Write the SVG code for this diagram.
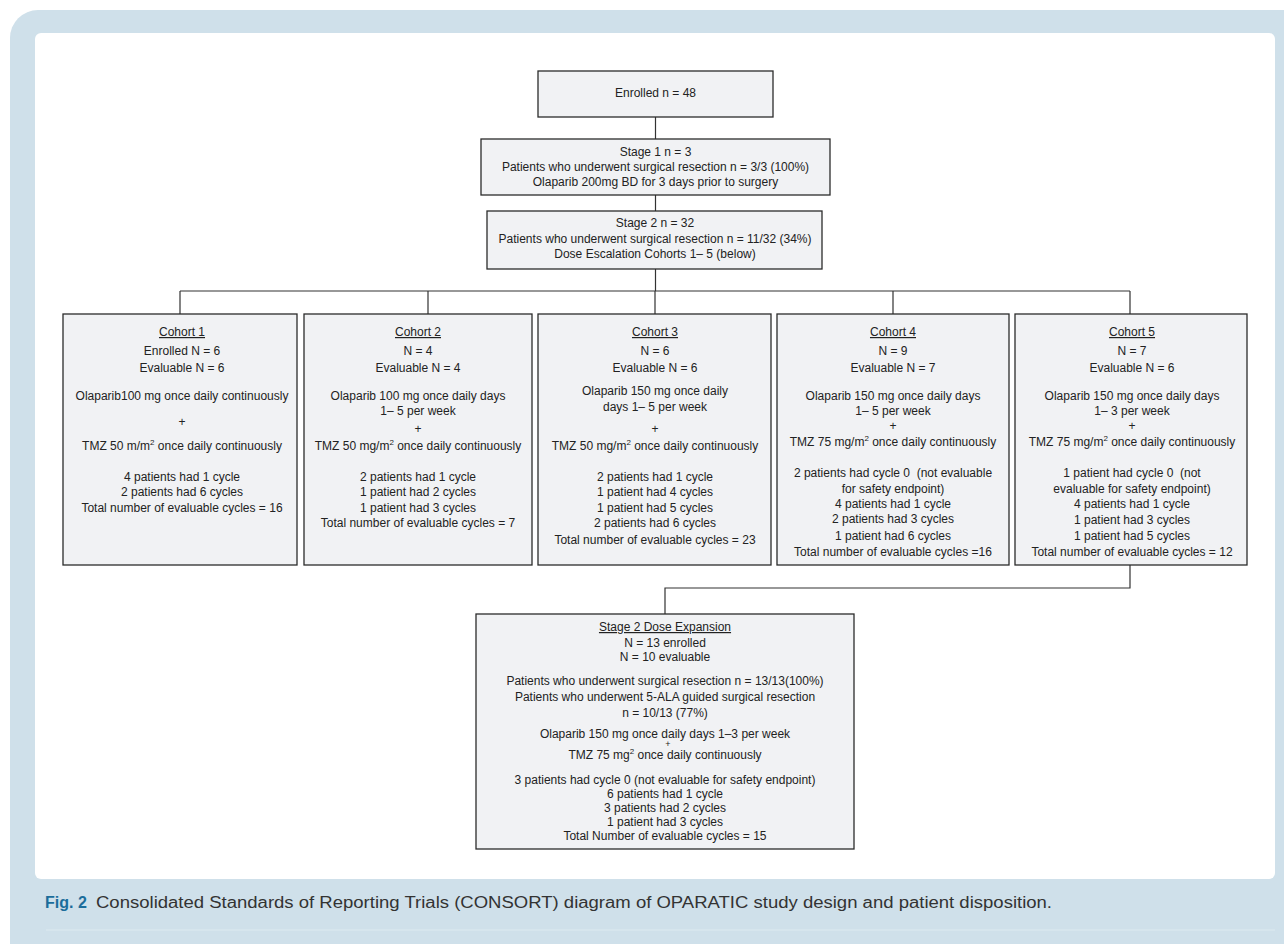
<svg xmlns="http://www.w3.org/2000/svg" width="1284" height="944" viewBox="0 0 1284 944">
<defs>
<style>
.bg{fill:#cfe0ea}
.box{fill:#f1f2f4;stroke:#2b2b2b;stroke-width:1.3}
.t{font-family:"Liberation Sans",Arial,sans-serif;font-size:12px;fill:#222;text-anchor:middle}
.u{text-decoration:underline}
.sup{font-size:8px}
.con{stroke:#333;stroke-width:1.2;fill:none}
.cap{font-family:"Liberation Sans",Arial,sans-serif;font-size:16px;fill:#333}
.fig{font-family:"Liberation Sans",Arial,sans-serif;font-size:16px;font-weight:bold;fill:#1b6d9b}
</style>
</defs>
<rect class="bg" x="10" y="10" width="1320" height="980" rx="28"/>
<rect x="35" y="33" width="1240" height="846" rx="6" fill="#ffffff"/>
<line x1="46" y1="930" x2="1275" y2="930" stroke="#dde9f0" stroke-width="1.2"/>
<text x="45" y="908" class="fig">Fig. 2</text>
<text x="96" y="908" class="cap" textLength="956" lengthAdjust="spacingAndGlyphs">Consolidated Standards of Reporting Trials (CONSORT) diagram of OPARATIC study design and patient disposition.</text>

<g id="connectors">
<path class="con" d="M655.5 117V139M655.5 195V211M655.5 269V291M180 291H1130M180 291V314M428 291V314M655 291V314M893 291V314M1130 291V314M1130 565V588H665V614"/>
</g>

<g id="enrolled">
<rect class="box" x="538" y="71" width="235" height="46"/>
<text class="t" x="655.5" y="97">Enrolled n = 48</text>
</g>

<g id="stage1">
<rect class="box" x="481" y="139" width="349" height="56"/>
<text class="t" x="655.5" y="156">Stage 1 n = 3</text>
<text class="t" x="655.5" y="171">Patients who underwent surgical resection n = 3/3 (100%)</text>
<text class="t" x="655.5" y="186">Olaparib 200mg BD for 3 days prior to surgery</text>
</g>

<g id="stage2">
<rect class="box" x="487" y="211" width="335" height="58"/>
<text class="t" x="655" y="227">Stage 2 n = 32</text>
<text class="t" x="655" y="243">Patients  who underwent surgical resection n = 11/32 (34%)</text>
<text class="t" x="655" y="258">Dose Escalation Cohorts 1– 5 (below)</text>
</g>

<g id="cohort1">
<rect class="box" x="63" y="314" width="234" height="251"/>
<text class="t u" x="182" y="336">Cohort 1</text>
<text class="t" x="182" y="355">Enrolled N = 6</text>
<text class="t" x="182" y="372">Evaluable N = 6</text>
<text class="t" x="182" y="400">Olaparib100 mg once daily continuously</text>
<text class="t" x="182" y="426">+</text>
<text class="t" x="182" y="450">TMZ 50 m/m<tspan class="sup" dy="-5">2</tspan><tspan dy="5"> once daily continuously</tspan></text>
<text class="t" x="182" y="481">4 patients had 1 cycle</text>
<text class="t" x="182" y="496">2 patients had 6 cycles</text>
<text class="t" x="182" y="512">Total number of evaluable cycles = 16</text>
</g>

<g id="cohort2">
<rect class="box" x="304" y="314" width="228" height="251"/>
<text class="t u" x="418" y="336">Cohort 2</text>
<text class="t" x="418" y="355">N = 4</text>
<text class="t" x="418" y="372">Evaluable N = 4</text>
<text class="t" x="418" y="400">Olaparib 100 mg once daily days</text>
<text class="t" x="418" y="415">1– 5 per week</text>
<text class="t" x="418" y="433">+</text>
<text class="t" x="418" y="450">TMZ 50 mg/m<tspan class="sup" dy="-5">2</tspan><tspan dy="5"> once daily continuously</tspan></text>
<text class="t" x="418" y="481">2 patients had 1 cycle</text>
<text class="t" x="418" y="496">1 patient had 2 cycles</text>
<text class="t" x="418" y="512">1 patient had 3 cycles</text>
<text class="t" x="418" y="527">Total number of evaluable cycles = 7</text>
</g>

<g id="cohort3">
<rect class="box" x="538" y="314" width="233" height="251"/>
<text class="t u" x="655" y="336">Cohort 3</text>
<text class="t" x="655" y="355">N = 6</text>
<text class="t" x="655" y="372">Evaluable N = 6</text>
<text class="t" x="655" y="395">Olaparib 150 mg once daily</text>
<text class="t" x="655" y="411">days 1– 5 per week</text>
<text class="t" x="655" y="433">+</text>
<text class="t" x="655" y="450">TMZ 50 mg/m<tspan class="sup" dy="-5">2</tspan><tspan dy="5"> once daily continuously</tspan></text>
<text class="t" x="655" y="481">2 patients had 1 cycle</text>
<text class="t" x="655" y="496">1 patient had 4 cycles</text>
<text class="t" x="655" y="512">1 patient had 5 cycles</text>
<text class="t" x="655" y="527">2 patients had 6 cycles</text>
<text class="t" x="655" y="544">Total number of evaluable cycles = 23</text>
</g>

<g id="cohort4">
<rect class="box" x="777" y="314" width="232" height="251"/>
<text class="t u" x="893" y="336">Cohort 4</text>
<text class="t" x="893" y="355">N = 9</text>
<text class="t" x="893" y="372">Evaluable N = 7</text>
<text class="t" x="893" y="400">Olaparib 150 mg once daily days</text>
<text class="t" x="893" y="415">1– 5 per week</text>
<text class="t" x="893" y="430">+</text>
<text class="t" x="893" y="446">TMZ 75 mg/m<tspan class="sup" dy="-5">2</tspan><tspan dy="5"> once daily continuously</tspan></text>
<text class="t" x="893" y="477" xml:space="preserve">2 patients had cycle 0  (not evaluable</text>
<text class="t" x="893" y="493">for safety endpoint)</text>
<text class="t" x="893" y="508">4 patients had 1 cycle</text>
<text class="t" x="893" y="523">2 patients had 3 cycles</text>
<text class="t" x="893" y="540">1 patient had 6 cycles</text>
<text class="t" x="893" y="556">Total number of evaluable cycles =16</text>
</g>

<g id="cohort5">
<rect class="box" x="1015" y="314" width="232" height="251"/>
<text class="t u" x="1132" y="336">Cohort 5</text>
<text class="t" x="1132" y="355">N = 7</text>
<text class="t" x="1132" y="372">Evaluable N = 6</text>
<text class="t" x="1132" y="400">Olaparib 150 mg once daily days</text>
<text class="t" x="1132" y="415">1– 3 per week</text>
<text class="t" x="1132" y="430">+</text>
<text class="t" x="1132" y="446">TMZ 75 mg/m<tspan class="sup" dy="-5">2</tspan><tspan dy="5"> once daily continuously</tspan></text>
<text class="t" x="1132" y="477" xml:space="preserve">1 patient had cycle 0  (not</text>
<text class="t" x="1132" y="493">evaluable for safety endpoint)</text>
<text class="t" x="1132" y="508">4 patients had 1 cycle</text>
<text class="t" x="1132" y="524">1 patient had 3 cycles</text>
<text class="t" x="1132" y="540">1 patient had 5 cycles</text>
<text class="t" x="1132" y="556">Total number of evaluable cycles = 12</text>
</g>

<g id="expansion">
<rect class="box" x="476" y="614" width="378" height="235"/>
<text class="t u" x="665" y="631">Stage 2 Dose Expansion</text>
<text class="t" x="665" y="647">N = 13 enrolled</text>
<text class="t" x="665" y="661">N = 10 evaluable</text>
<text class="t" x="665" y="685">Patients who underwent surgical resection n = 13/13(100%)</text>
<text class="t" x="665" y="701">Patients who underwent 5-ALA guided surgical resection</text>
<text class="t" x="665" y="717">n = 10/13 (77%)</text>
<text class="t" x="665" y="738">Olaparib 150 mg once daily days 1–3 per week</text>
<text class="t" x="668" y="747" style="font-size:9px">+</text>
<text class="t" x="665" y="759">TMZ 75 mg<tspan class="sup" dy="-5">2</tspan><tspan dy="5"> once daily continuously</tspan></text>
<text class="t" x="665" y="784">3 patients had cycle 0 (not evaluable for safety endpoint)</text>
<text class="t" x="665" y="798">6 patients had 1 cycle</text>
<text class="t" x="665" y="812">3 patients had 2 cycles</text>
<text class="t" x="665" y="826">1 patient had 3 cycles</text>
<text class="t" x="665" y="840">Total Number of evaluable cycles = 15</text>
</g>
</svg>
